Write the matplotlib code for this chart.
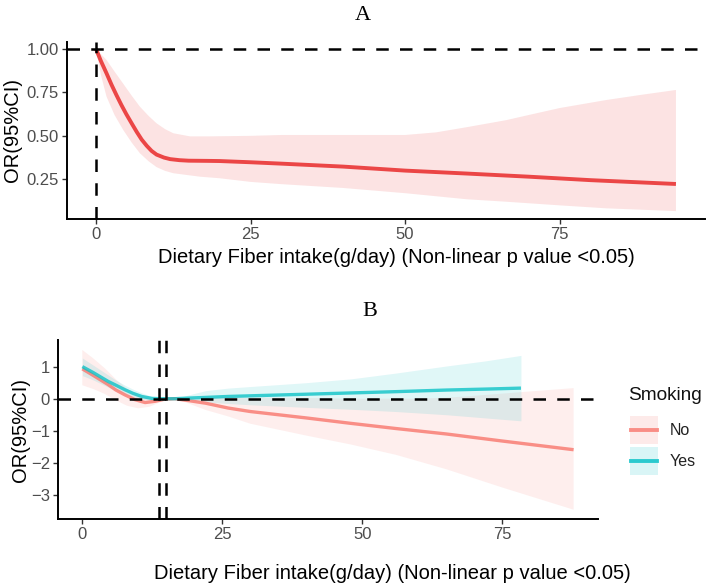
import matplotlib
matplotlib.use("Agg")
import matplotlib.pyplot as plt
from matplotlib.patches import Patch, Rectangle
from matplotlib.lines import Line2D
from matplotlib.legend_handler import HandlerBase

plt.rcParams['font.family'] = ['Liberation Sans', 'DejaVu Sans']

# ---------------- Panel A data ----------------
a_x = [0, 0.8, 1.7, 2.5, 3.3, 4.1, 4.9, 5.8, 6.6, 7.4, 8.2, 9.0, 9.8, 11, 12, 13.5, 15, 18, 20, 25, 30,
       40, 50, 60, 70, 80, 93.8]
a_or = [1.0, 0.93, 0.86, 0.795, 0.735, 0.678, 0.625, 0.57, 0.522, 0.478, 0.443, 0.413, 0.392, 0.375,
        0.366, 0.36, 0.357, 0.356, 0.355, 0.348, 0.34, 0.323, 0.30, 0.283, 0.265, 0.245, 0.223]
a_up_x = [0, 1.7, 3, 4.4, 5.8, 7.1, 8.5, 9.8, 11.2, 12.5, 15.2, 18.4, 25, 30, 40, 50, 55, 60, 66.3, 70,
          75, 82.5, 88, 93.8]
a_up = [1.0, 0.937, 0.87, 0.80, 0.73, 0.668, 0.615, 0.572, 0.538, 0.515, 0.497, 0.497, 0.50, 0.505,
        0.505, 0.505, 0.52, 0.55, 0.59, 0.62, 0.66, 0.706, 0.735, 0.764]
a_lo_x = [0, 0.8, 1.7, 3, 4.4, 5.8, 7.1, 8.5, 9.8, 11.2, 12.5, 16.8, 20, 25, 30, 40, 50, 60, 66.3, 75,
          82.5, 93.8]
a_lo = [1.0, 0.85, 0.726, 0.62, 0.534, 0.46, 0.40, 0.354, 0.32, 0.298, 0.285, 0.265, 0.256, 0.235,
        0.222, 0.20, 0.17, 0.135, 0.121, 0.10, 0.083, 0.067]

# ---------------- Panel B data ----------------
no_x = [0, 2, 4.6, 6, 7.6, 9.4, 11.2, 13, 14.5, 16.5, 19, 22, 26, 30, 40, 48, 56, 65, 75, 87.7]
no_y = [0.93, 0.72, 0.44, 0.27, 0.12, -0.03, -0.12, -0.08, -0.02, 0.0, -0.06, -0.14, -0.29, -0.40,
        -0.60, -0.77, -0.93, -1.10, -1.32, -1.59]
no_up_x = [0, 2, 4, 6, 8, 10, 12, 14, 16.5, 20, 25, 30, 40, 50, 60, 65, 70, 78, 87.7]
no_up = [1.52, 1.25, 0.95, 0.60, 0.30, 0.12, 0.04, 0.01, 0.0, 0.02, 0.03, 0.03, 0.02, 0.0, 0.0, 0.03,
         0.09, 0.20, 0.33]
no_lo_x = [0, 2, 4, 6, 8, 10, 12, 14, 16.5, 19, 22, 26, 30, 40, 48, 56, 65, 75, 87.7]
no_lo = [0.42, 0.30, 0.15, -0.05, -0.22, -0.30, -0.25, -0.10, 0.0, -0.15, -0.35, -0.55, -0.78, -1.15,
         -1.43, -1.75, -2.20, -2.77, -3.46]

yes_x = [0, 2, 4.6, 6, 7.6, 9, 10.6, 12.4, 14, 16.5, 19, 22, 26, 30, 40, 48, 56, 65, 72, 78.3]
yes_y = [1.0, 0.81, 0.54, 0.42, 0.28, 0.17, 0.07, 0.01, 0.0, 0.0, 0.02, 0.04, 0.07, 0.09, 0.14, 0.18,
         0.22, 0.27, 0.30, 0.33]
yes_up = [1.27, 1.04, 0.74, 0.58, 0.42, 0.30, 0.18, 0.07, 0.02, 0.0, 0.12, 0.25, 0.33, 0.38, 0.50,
          0.62, 0.80, 1.02, 1.18, 1.35]
yes_lo = [0.72, 0.58, 0.36, 0.27, 0.15, 0.06, -0.02, -0.04, -0.02, 0.0, -0.06, -0.10, -0.15, -0.19,
          -0.27, -0.33, -0.40, -0.50, -0.60, -0.69]

knots_b = [13.7, 14.9]
groups = ["No", "Yes"]
legend_title = "Smoking"

xticks = [0, 25, 50, 75]
a_yticks = [0.25, 0.50, 0.75, 1.00]
a_yticklabels = ["0.25", "0.50", "0.75", "1.00"]
b_yticks = [-3, -2, -1, 0, 1]

xlabel = "Dietary Fiber intake(g/day) (Non-linear p value <0.05)"
ylabel = "OR(95%CI)"

RED = "#EB4646"
SALMON = "#F8766D"
TEAL = "#00BFC4"
TICKC = "#4D4D4D"
DASH = (5, 4.5)

W, H = 709, 587
fig = plt.figure(figsize=(W / 100, H / 100), dpi=100)


def ax_rect(l, r, t, b):
    return [l / W, (H - b) / H, (r - l) / W, (b - t) / H]


def style(ax):
    for s in ["top", "right"]:
        ax.spines[s].set_visible(False)
    for s in ["left", "bottom"]:
        ax.spines[s].set_linewidth(1.4)
        ax.spines[s].set_color("black")
    ax.tick_params(axis="both", direction="out", length=3.5, width=1.0, color="#333333",
                   labelsize=12, labelcolor=TICKC, pad=2.5)


# ---------------- Panel A ----------------
axA = fig.add_axes(ax_rect(67, 705, 42, 219))
style(axA)
poly_x = a_up_x + a_lo_x[::-1]
poly_y = a_up + a_lo[::-1]
axA.fill(poly_x, poly_y, color=RED, alpha=0.15, lw=0)
axA.plot(a_x, a_or, color=RED, lw=2.8, solid_capstyle="butt", solid_joinstyle="round")
axA.axhline(1.0, color="black", lw=1.8, dashes=DASH)
axA.axvline(0, color="black", lw=1.8, dashes=DASH)
axA.set_xlim(-4.69, 98.5)
axA.set_ylim(0.0215, 1.040)
axA.set_xticks(xticks)
axA.set_yticks(a_yticks)
axA.set_yticklabels(a_yticklabels)
axA.set_xlabel(xlabel, fontsize=14.5, color="black")
axA.set_ylabel(ylabel, fontsize=14.5, color="black")
axA.xaxis.label.set_va("center")
axA.yaxis.label.set_va("center")
axA.xaxis.set_label_coords(0.517, -0.22)
axA.yaxis.set_label_coords(-0.086, 0.503)

# ---------------- Panel B ----------------
axB = fig.add_axes(ax_rect(58.3, 597.7, 340, 519))
style(axB)
no_poly_x = no_up_x + no_lo_x[::-1]
no_poly_y = no_up + no_lo[::-1]
axB.fill(no_poly_x, no_poly_y, color=SALMON, alpha=0.12, lw=0)
axB.fill_between(yes_x, yes_lo, yes_up, color=TEAL, alpha=0.12, lw=0)
axB.plot(no_x, no_y, color=SALMON, lw=2.4, alpha=0.8, solid_capstyle="butt", solid_joinstyle="round")
axB.plot(yes_x, yes_y, color=TEAL, lw=2.4, alpha=0.75, solid_capstyle="butt", solid_joinstyle="round")
axB.axhline(0, color="black", lw=1.8, dashes=DASH)
for k in knots_b:
    axB.axvline(k, color="black", lw=1.8, dashes=DASH)
axB.set_xlim(-4.29, 92.0)
axB.set_ylim(-3.75, 1.83)
axB.set_xticks(xticks)
axB.set_yticks(b_yticks)
axB.set_xlabel(xlabel, fontsize=14.5, color="black")
axB.set_ylabel(ylabel, fontsize=14.5, color="black")
axB.xaxis.label.set_va("center")
axB.yaxis.label.set_va("center")
axB.xaxis.set_label_coords(0.619, -0.302)
axB.yaxis.set_label_coords(-0.071, 0.5)


# legend with full-box key background (ggplot style)
class KeyHandler(HandlerBase):
    def __init__(self, color):
        super().__init__()
        self.color = color

    def create_artists(self, legend, orig_handle, xdescent, ydescent, width, height,
                       fontsize, trans):
        rect = Rectangle((-xdescent, -ydescent), width, height, facecolor=self.color,
                         alpha=0.15, lw=0, transform=trans)
        ymid = -ydescent + height / 2
        line = Line2D([-xdescent + 1, -xdescent + width - 1], [ymid, ymid], color=self.color,
                      lw=2.8, alpha=0.8, transform=trans)
        return [rect, line]


h_no = Patch(facecolor=SALMON)
h_yes = Patch(facecolor=TEAL)
leg = fig.legend([h_no, h_yes], groups, loc="upper left",
                 bbox_to_anchor=(630 / W, (H - 416) / H), frameon=False,
                 handler_map={h_no: KeyHandler(SALMON), h_yes: KeyHandler(TEAL)},
                 fontsize=11.5, handlelength=1.75, handleheight=2.35,
                 handletextpad=0.75, labelspacing=0.18, borderpad=0.0, borderaxespad=0.0)
for t in leg.get_texts():
    t.set_color("#222222")
fig.text(628 / W, 1 - 395 / H, legend_title, ha="left", va="center", fontsize=13.7, color="#111111")

# panel titles
fig.text(362.5 / W, 1 - 15 / H, "A", ha="center", va="center", fontsize=16,
         family=["Liberation Serif", "DejaVu Serif"])
fig.text(370 / W, 1 - 311 / H, "B", ha="center", va="center", fontsize=16,
         family=["Liberation Serif", "DejaVu Serif"])

fig.savefig("out.png", dpi=100)
